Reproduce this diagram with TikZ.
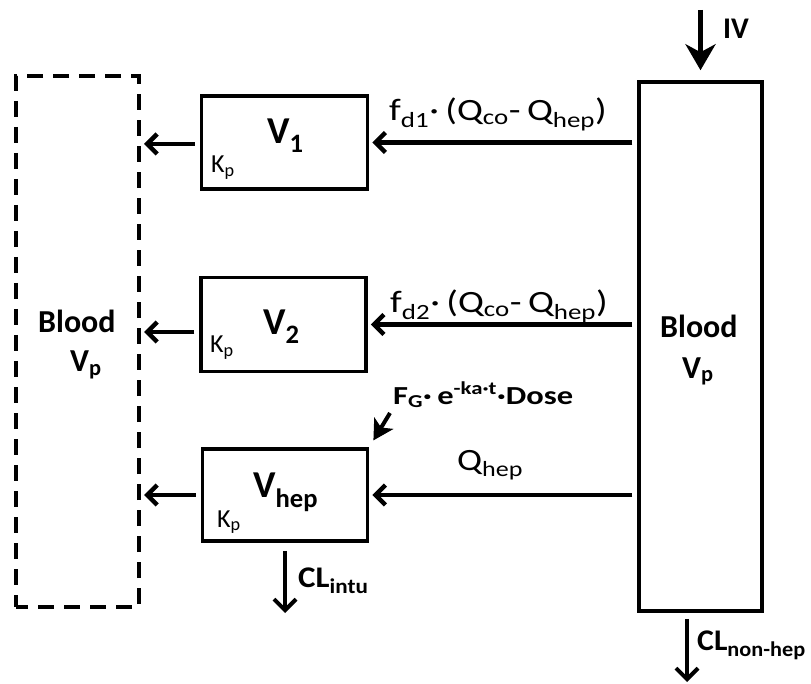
\documentclass[tikz,border=0pt]{standalone}
\usepackage{fontspec}
\setmainfont{Carlito}
\usetikzlibrary{arrows.meta}
\newcommand{\wide}[2]{\scalebox{#1}[1]{#2}}
\begin{document}
\begin{tikzpicture}[x=1pt,y=-1pt,
  box/.style={draw, line width=3.5pt, rectangle, inner sep=0pt},
  dbox/.style={draw, line width=4pt, dash pattern=on 16pt off 10pt, dash phase=4pt, rectangle, inner sep=0pt},
  lbl/.style={inner sep=0pt, anchor=base west},
  bfont/.style={font=\fontsize{32}{36}\selectfont\bfseries},
  vfont/.style={font=\fontsize{38}{42}\selectfont\bfseries},
  kfont/.style={font=\fontsize{26}{28}\selectfont},
  rfont/.style={font=\fontsize{31}{34}\selectfont},
  dfont/.style={font=\fontsize{26}{30}\selectfont\bfseries},
  clfont/.style={font=\fontsize{30}{34}\selectfont\bfseries},
  flow/.style={line width=4.5pt, -{Straight Barb[length=10pt,width=20pt]}},
  outflow/.style={line width=4pt, -{Straight Barb[length=11pt,width=22pt]}},
  inarr/.style={line width=5pt, -{Stealth[length=26pt,width=30pt,inset=8pt]}},
  fgarr/.style={line width=4pt, -{Stealth[length=20pt,width=22pt,inset=5pt]}},
]
\useasboundingbox (0,0) rectangle (811,684);

% compartments
\node[box, minimum width=123pt, minimum height=529pt] (bloodR) at (700.5,346.5) {};
\node[dbox, minimum width=123pt, minimum height=531pt] (bloodL) at (77.5,341.5) {};
\node[box, minimum width=166pt, minimum height=93pt] (v1) at (284.5,142.5) {};
\node[box, minimum width=165pt, minimum height=94pt] (v2) at (283.5,324.5) {};
\node[box, minimum width=165pt, minimum height=92pt] (vh) at (285,495) {};

% texts
\node[lbl, bfont] (bLt) at (38,333) {Blood};
\node[lbl, bfont] (bLv) at (70,372) {V\textsubscript{p}};
\node[lbl, bfont] (bRt) at (660,338) {Blood};
\node[lbl, bfont] (bRv) at (682,378) {V\textsubscript{p}};
\node[lbl, vfont] (v1t) at (267,144) {V\textsubscript{1}};
\node[lbl, vfont] (v2t) at (263,335) {V\textsubscript{2}};
\node[lbl, vfont] (vht) at (253,497) {V\textsubscript{hep}};
\node[lbl, kfont] (k1) at (211,173) {K\textsubscript{p}};
\node[lbl, kfont] (k2) at (210,353) {K\textsubscript{p}};
\node[lbl, kfont] (k3) at (217,527) {K\textsubscript{p}};
\node[lbl, rfont] (f1) at (389,121) {\wide{1.24}{f\textsubscript{d1}·\,(Q\textsubscript{co}-\,Q\textsubscript{hep})}};
\node[lbl, rfont] (f2) at (390,313) {\wide{1.24}{f\textsubscript{d2}·\,(Q\textsubscript{co}-\,Q\textsubscript{hep})}};
\node[lbl, rfont] (qh) at (457,470) {\wide{1.2}{Q\textsubscript{hep}}};
\node[lbl, dfont] (fg) at (393,404) {\wide{1.25}{F\textsubscript{G}·\,e\textsuperscript{-ka·t}·Dose}};
\node[lbl, clfont] (cli) at (298,587) {\wide{1.1}{CL\textsubscript{intu}}};
\node[lbl, clfont] (cln) at (697,650) {\wide{1.06}{CL\textsubscript{non-hep}}};
\node[lbl, clfont] (iv) at (723,39) {IV};

% flows from blood to tissues
\draw[flow, shorten <=5pt, shorten >=3pt] (bloodR.west |- v1.east) -- (v1.east);
\draw[flow, shorten <=5pt, shorten >=3pt] (bloodR.west |- v2.east) -- (v2.east);
\draw[flow, shorten <=5pt, shorten >=3pt] (bloodR.west |- vh.east) -- (vh.east);

% flows from tissues to venous blood
\coordinate (a1) at ([yshift=-1.5pt]v1.west);
\coordinate (a2) at ([yshift=-7.5pt]v2.west);
\coordinate (a3) at (vh.west);
\draw[flow, shorten <=5pt, shorten >=3pt] (a1) -- (bloodL.east |- a1);
\draw[flow, shorten <=5pt, shorten >=3pt] (a2) -- (bloodL.east |- a2);
\draw[flow, shorten <=5pt, shorten >=3pt] (a3) -- (bloodL.east |- a3);

% inputs
\coordinate (ivs) at (699,10);
\draw[inarr, shorten >=10pt] (bloodR.north |- ivs) -- (bloodR.north);
\coordinate (fgs) at (390,413);
\draw[fgarr, shorten >=8pt] (fgs) -- (vh.north east);

% clearances
\coordinate (cie) at (285,613);
\draw[outflow, shorten <=8pt] (vh.south) -- (cie);
\coordinate (cne) at (687,682);
\draw[outflow, shorten <=6pt] (bloodR.south -| cne) -- (cne);
\end{tikzpicture}
\end{document}
